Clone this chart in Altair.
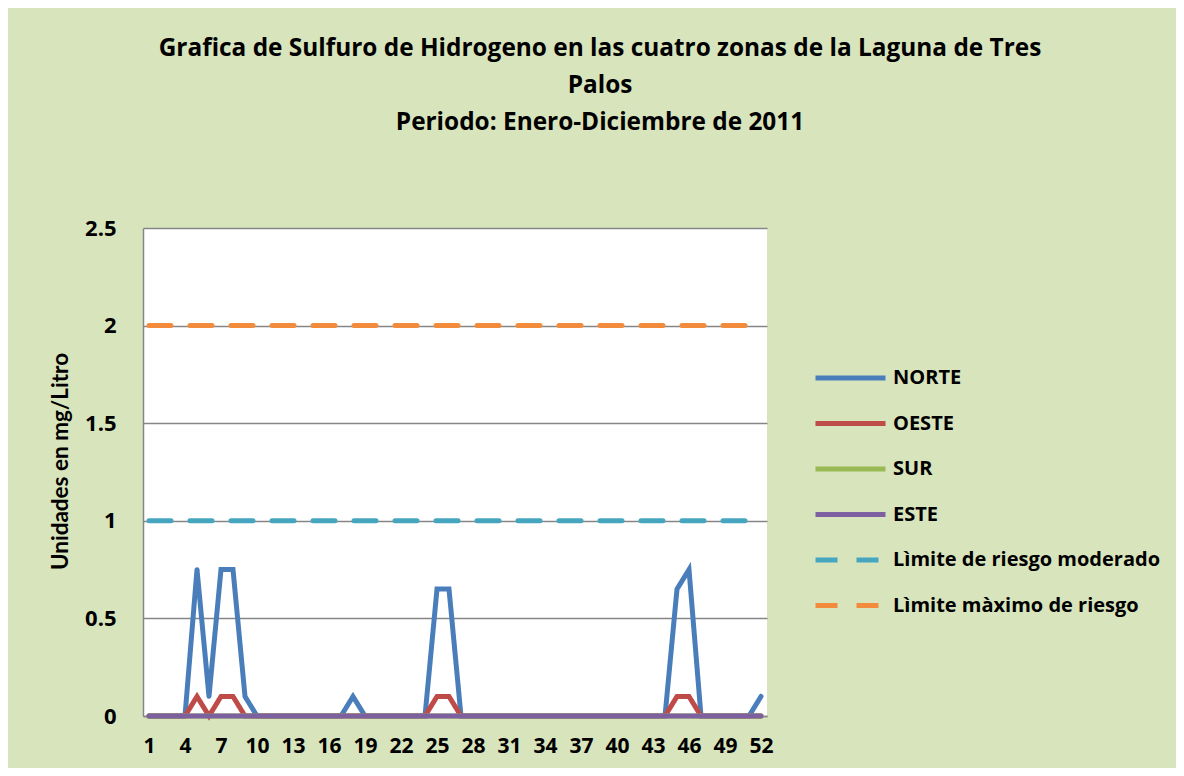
import altair as alt
import pandas as pd

semanas = [1, 2, 3, 4, 5, 6, 7, 8, 9, 10, 11, 12, 13, 14, 15, 16, 17, 18, 19, 20,
           21, 22, 23, 24, 25, 26, 27, 28, 29, 30, 31, 32, 33, 34, 35, 36, 37, 38, 39, 40,
           41, 42, 43, 44, 45, 46, 47, 48, 49, 50, 51, 52]

norte = [0, 0, 0, 0, 0.75, 0.1, 0.75, 0.75, 0.1, 0, 0, 0, 0, 0, 0, 0, 0, 0.1, 0, 0,
         0, 0, 0, 0, 0.65, 0.65, 0, 0, 0, 0, 0, 0, 0, 0, 0, 0, 0, 0, 0, 0,
         0, 0, 0, 0, 0.65, 0.75, 0, 0, 0, 0, 0, 0.1]
oeste = [0, 0, 0, 0, 0.1, 0, 0.1, 0.1, 0, 0, 0, 0, 0, 0, 0, 0, 0, 0, 0, 0,
         0, 0, 0, 0, 0.1, 0.1, 0, 0, 0, 0, 0, 0, 0, 0, 0, 0, 0, 0, 0, 0,
         0, 0, 0, 0, 0.1, 0.1, 0, 0, 0, 0, 0, 0]
sur = [0, 0, 0, 0, 0, 0, 0, 0, 0, 0, 0, 0, 0, 0, 0, 0, 0, 0, 0, 0,
       0, 0, 0, 0, 0, 0, 0, 0, 0, 0, 0, 0, 0, 0, 0, 0, 0, 0, 0, 0,
       0, 0, 0, 0, 0, 0, 0, 0, 0, 0, 0, 0]
este = [0, 0, 0, 0, 0, 0, 0, 0, 0, 0, 0, 0, 0, 0, 0, 0, 0, 0, 0, 0,
        0, 0, 0, 0, 0, 0, 0, 0, 0, 0, 0, 0, 0, 0, 0, 0, 0, 0, 0, 0,
        0, 0, 0, 0, 0, 0, 0, 0, 0, 0, 0, 0]
moderado = [1, 1, 1, 1, 1, 1, 1, 1, 1, 1, 1, 1, 1, 1, 1, 1, 1, 1, 1, 1,
            1, 1, 1, 1, 1, 1, 1, 1, 1, 1, 1, 1, 1, 1, 1, 1, 1, 1, 1, 1,
            1, 1, 1, 1, 1, 1, 1, 1, 1, 1, 1, 1]
maximo = [2, 2, 2, 2, 2, 2, 2, 2, 2, 2, 2, 2, 2, 2, 2, 2, 2, 2, 2, 2,
          2, 2, 2, 2, 2, 2, 2, 2, 2, 2, 2, 2, 2, 2, 2, 2, 2, 2, 2, 2,
          2, 2, 2, 2, 2, 2, 2, 2, 2, 2, 2, 2]

series_names = ["NORTE", "OESTE", "SUR", "ESTE",
                "Lìmite de riesgo moderado", "Lìmite màximo de riesgo"]
series_vals = [norte, oeste, sur, este, moderado, maximo]
colores = ["#4a7ebb", "#be4b48", "#98b954", "#7d60a0", "#46a6c0", "#f28c3c"]
dashes = [[1, 0], [1, 0], [1, 0], [1, 0], [22, 19], [22, 19]]

x_ticks = [1, 4, 7, 10, 13, 16, 19, 22, 25, 28, 31, 34, 37, 40, 43, 46, 49, 52]
y_ticks = [0, 0.5, 1, 1.5, 2, 2.5]

rows = []
for orden, (name, vals) in enumerate(zip(series_names, series_vals)):
    for s, v in zip(semanas, vals):
        rows.append({"serie": name, "semana": s, "valor": v, "orden": orden})
df = pd.DataFrame(rows)

FONT = "Open Sans"


def make_legend():
    return alt.Legend(title=None, orient="none",
                      legendX=670, legendY=140,
                      symbolType="stroke", symbolSize=4900,
                      symbolStrokeWidth=5, clipHeight=20,
                      rowPadding=25.5, labelOffset=5,
                      labelFont=FONT, labelFontSize=20,
                      labelFontWeight="bold", labelColor="black",
                      padding=0, labelLimit=400)


color_enc = alt.Color("serie:N",
                      scale=alt.Scale(domain=series_names, range=colores),
                      sort=series_names, legend=make_legend())
dash_enc = alt.StrokeDash("serie:N",
                          scale=alt.Scale(domain=series_names, range=dashes),
                          sort=series_names, legend=make_legend())

x_enc = alt.X("semana:Q",
              scale=alt.Scale(domain=[0.5, 52.5], nice=False, zero=False),
              axis=alt.Axis(title=None, values=x_ticks, ticks=False, grid=False,
                            labelFont=FONT, labelFontSize=21, labelFontWeight="bold",
                            labelColor="black", labelPadding=19,
                            domainColor="#868686", domainWidth=1.5))
y_enc = alt.Y("valor:Q",
              scale=alt.Scale(domain=[0, 2.5], nice=False),
              axis=alt.Axis(title="Unidades en mg/Litro", values=y_ticks, format="~g",
                            ticks=False, grid=True, gridColor="#868686", gridWidth=1.5,
                            labelFont=FONT, labelFontSize=22, labelFontWeight="bold",
                            labelColor="black", labelPadding=27,
                            domainColor="#868686", domainWidth=1.5,
                            titleFont="Lato", titleFontSize=22.5, titleFontWeight="bold",
                            titleColor="black", titleX=-83, titleY=233,
                            titleAngle=270, titleAlign="center", titleBaseline="middle"))

base = alt.Chart(df).encode(
    x=x_enc, y=y_enc, color=color_enc, strokeDash=dash_enc,
    order=alt.Order("orden:Q"),
)

chart = base.mark_line(strokeWidth=5, strokeCap="round").properties(
    width=624, height=488,
    title=alt.TitleParams(
        text=["Grafica de Sulfuro de Hidrogeno en las cuatro zonas de la Laguna de Tres",
              "Palos", "Periodo: Enero-Diciembre de 2011"],
        font=FONT, fontSize=24.4, fontWeight="bold", color="black",
        anchor="middle", frame="group", dx=145, lineHeight=37, offset=82),
    autosize=alt.AutoSizeParams(type="none"),
    padding={"left": 135, "top": 220, "right": 409, "bottom": 52},
    background="#d8e4bc",
).configure_view(fill="white", stroke=None)

chart.save("out.html", embed_options={"renderer": "svg", "actions": False})
